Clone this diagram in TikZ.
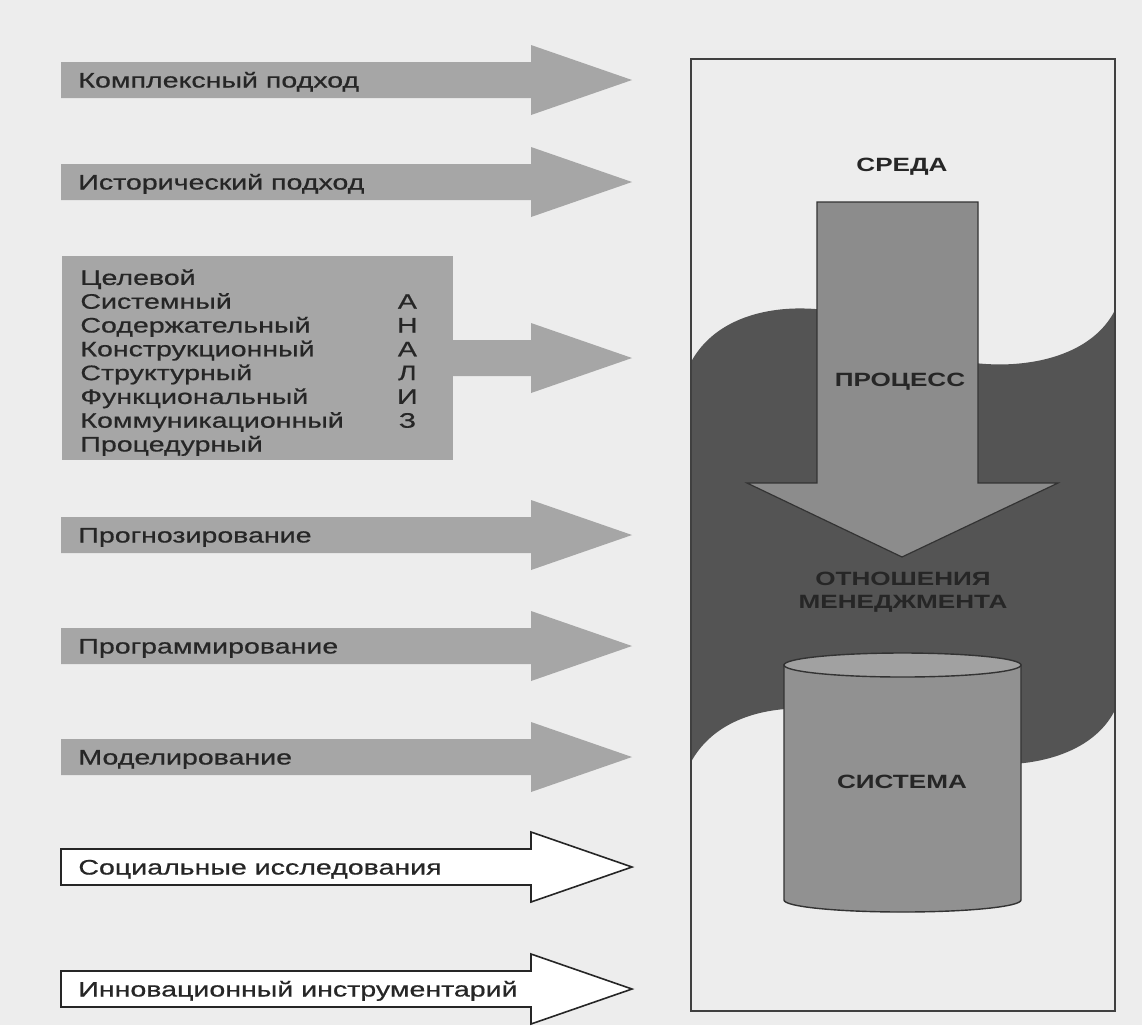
\documentclass[tikz,border=0pt]{standalone}
\usepackage{fontspec}
\usepackage{graphicx}
\newfontfamily\lblfont[FakeStretch=1.36, FakeBold=0.6]{Liberation Sans}
\newfontfamily\capfont[FakeStretch=1.36]{Liberation Sans Bold}
\usepackage{tikz}
\usetikzlibrary{positioning}

% block arrow: [style]{centre y}{tail x}
\newcommand{\blockarrow}[3][grayarrow]{%
  \path[#1] (#3,#2-18) -- (531,#2-18) -- (531,#2-35) -- (632,#2)
    -- (531,#2+35) -- (531,#2+18) -- (#3,#2+18) -- cycle;}

\begin{document}
\begin{tikzpicture}[x=0.5pt, y=-0.5pt,
				grayarrow/.style={fill=black!35},
				whitearrow/.style={draw=black!85, line width=0.8pt, fill=white},
				lbl/.style={
					font=\lblfont\fontsize{10.5}{11.5}\selectfont,
					text=black!85, inner sep=0pt,
					text height=7.5pt, text depth=0pt,
					anchor=west,
				},
				aline/.style={lbl, text width=167.5pt, align=left, text depth=4pt},
				caps/.style={
					font=\capfont\fontsize{9.6}{11.5}\selectfont,
					text=black!85, inner sep=0pt,
					text height=6.8pt, text depth=0pt,
				},
				]
				\useasboundingbox (0,0) rectangle (1142,1025);
				\fill[black!7] (0,0) rectangle (1142,1025);
				
				% left side
				\blockarrow{80}{61}
				\blockarrow{182}{61}
				\fill[black!35] (62,256) rectangle (453,460);
				\blockarrow{358}{440}
				\blockarrow{535}{61}
				\blockarrow{646}{61}
				\blockarrow{757}{61}
				\blockarrow[whitearrow]{867}{61}
				\blockarrow[whitearrow]{989}{61}
				
				\node[lbl] (kompl) at (78,80) {Комплексный подход};
				\node[lbl] (istor) at (78,182) {Исторический подход};
				
				\node[aline, anchor=north west] (an1) at (80,269.5) {Целевой};
				\node[aline, below=0pt of an1] (an2) {Системный\hfill\makebox[8pt]{А}};
				\node[aline, below=0pt of an2] (an3) {Содержательный\hfill\makebox[8pt]{Н}};
				\node[aline, below=0pt of an3] (an4) {Конструкционный\hfill\makebox[8pt]{А}};
				\node[aline, below=0pt of an4] (an5) {Структурный\hfill\makebox[8pt]{Л}};
				\node[aline, below=0pt of an5] (an6) {Функциональный\hfill\makebox[8pt]{И}};
				\node[aline, below=0pt of an6] (an7) {Коммуникационный\hfill\makebox[8pt]{З}};
				\node[aline, below=0pt of an7] (an8) {Процедурный};
				
				\node[lbl] (prog) at (78,535) {Прогнозирование};
				\node[lbl] (progr) at (78,646) {Программирование};
				\node[lbl] (model) at (78,757) {Моделирование};
				\node[lbl] (soc) at (78,867) {Социальные исследования};
				\node[lbl] (innov) at (78,989) {Инновационный инструментарий};
				
				% right side
				\fill[black!67] (691,362) .. controls (730,290) and (850,300) .. (900,337)
				.. controls (950,375) and (1080,380) .. (1115,310) -- (1115,710)
				.. controls (1080,780) and (950,775) .. (900,737)
				.. controls (850,700) and (730,690) .. (691,762) -- cycle;
				
				\draw[fill=black!45, draw=black!80, line width=0.6pt]
				(817,202) -- (978,202) -- (978,483) -- (1058,483) -- (902,557)
				-- (747,483) -- (817,483) -- cycle;
				
				\draw[fill=black!43, draw=black!80, line width=0.7pt]
				(784,665) -- (784,900) arc[start angle=180, end angle=360, x radius=59.25pt, y radius=6pt]
				-- (1021,665) -- cycle;
				\draw[fill=black!37, draw=black!80, line width=0.7pt]
				(902.5,665) ellipse [x radius=59.25pt, y radius=6pt];
				
				\node[caps] (sreda) at (902,165) {СРЕДА};
				\node[caps] (proc) at (900,380) {ПРОЦЕСС};
				\node[caps, align=center] (otn) at (903,601.5) {ОТНОШЕНИЯ\\МЕНЕДЖМЕНТА};
				\node[caps] (sys) at (902,782) {СИСТЕМА};
				
				\draw[black!75, line width=1pt] (691,59) rectangle (1115,1011);
			\end{tikzpicture}
\end{document}
